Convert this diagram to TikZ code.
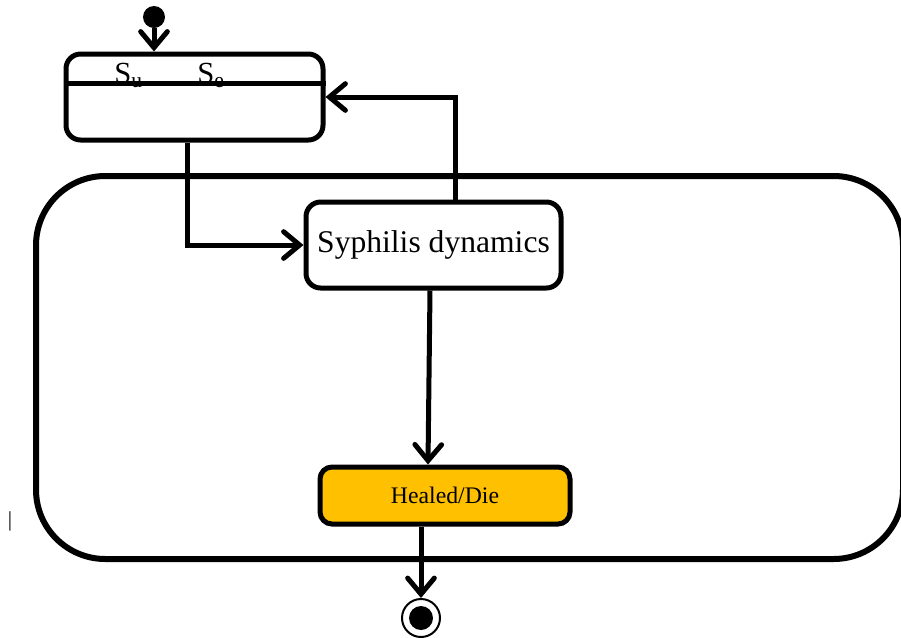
\documentclass[tikz,border=0pt]{standalone}
\usepackage{fontspec}
\setmainfont{Liberation Serif}
\usetikzlibrary{arrows.meta}

\begin{document}
\begin{tikzpicture}[x=0.75pt,y=-0.75pt,line join=miter,
                    flow/.style={-{Straight Barb[length=12pt,width=20pt,line cap=round]},line width=3.75pt},
                    box/.style={draw,line width=3.75pt,rounded corners=11pt,inner sep=0pt},
                    env/.style={draw,line width=4.5pt,rounded corners=52pt,
                                minimum width=650.25pt,minimum height=287.25pt},
                    start/.style={circle,fill,minimum size=16.5pt,inner sep=0pt},
                    stop/.style={circle,draw,line width=1.5pt,minimum size=28.5pt,inner sep=0pt}]
  \useasboundingbox (0,0) rectangle (901,637);

  \node[env]   (life)  at (469.5,367.5) {};
  \node[start] (init)  at (154,17)      {};
  \node[box,minimum width=192.75pt,minimum height=64.5pt] (pool) at (194.5,97) {};
  \node[anchor=base west,inner sep=0pt,font=\fontsize{23}{25}\selectfont] (su) at (114,83) {S\textsubscript{u}};
  \node[anchor=base west,inner sep=0pt,font=\fontsize{23}{25}\selectfont] (se) at (197,83) {S\textsubscript{e}};
  \node[box,minimum width=191.25pt,minimum height=64.5pt,
        font=\fontsize{23.7}{26}\selectfont] (dyn) at (433.5,245) {Syphilis dynamics};
  \node[box,fill={rgb,255:red,255;green,192;blue,0},rounded corners=9pt,
        minimum width=187.5pt,minimum height=42.75pt,
        font=\fontsize{17.8}{20}\selectfont] (out) at (445,495.5) {Healed/Die};
  \node[stop]  (fin)   at (421,618)     {};
  \node[font=\fontsize{16}{18}\selectfont] (bar) at (10,521) {|};

  \fill (fin) circle (9pt);
  \draw[line width=3.75pt] (pool.west |- 0,83) -- (pool.east |- 0,83);

  \draw[flow] (init) -- (init |- pool.north);
  \draw[flow] (pool.south -| 187,0) |- (dyn.west);
  \draw[flow] (dyn.north -| 455,0) |- (pool.east);
  \draw[flow] (dyn.south -| 430,0) -- (out.north -| 428,0);
  \draw[flow] (out.south -| 421,0) -- (fin);
\end{tikzpicture}
\end{document}
